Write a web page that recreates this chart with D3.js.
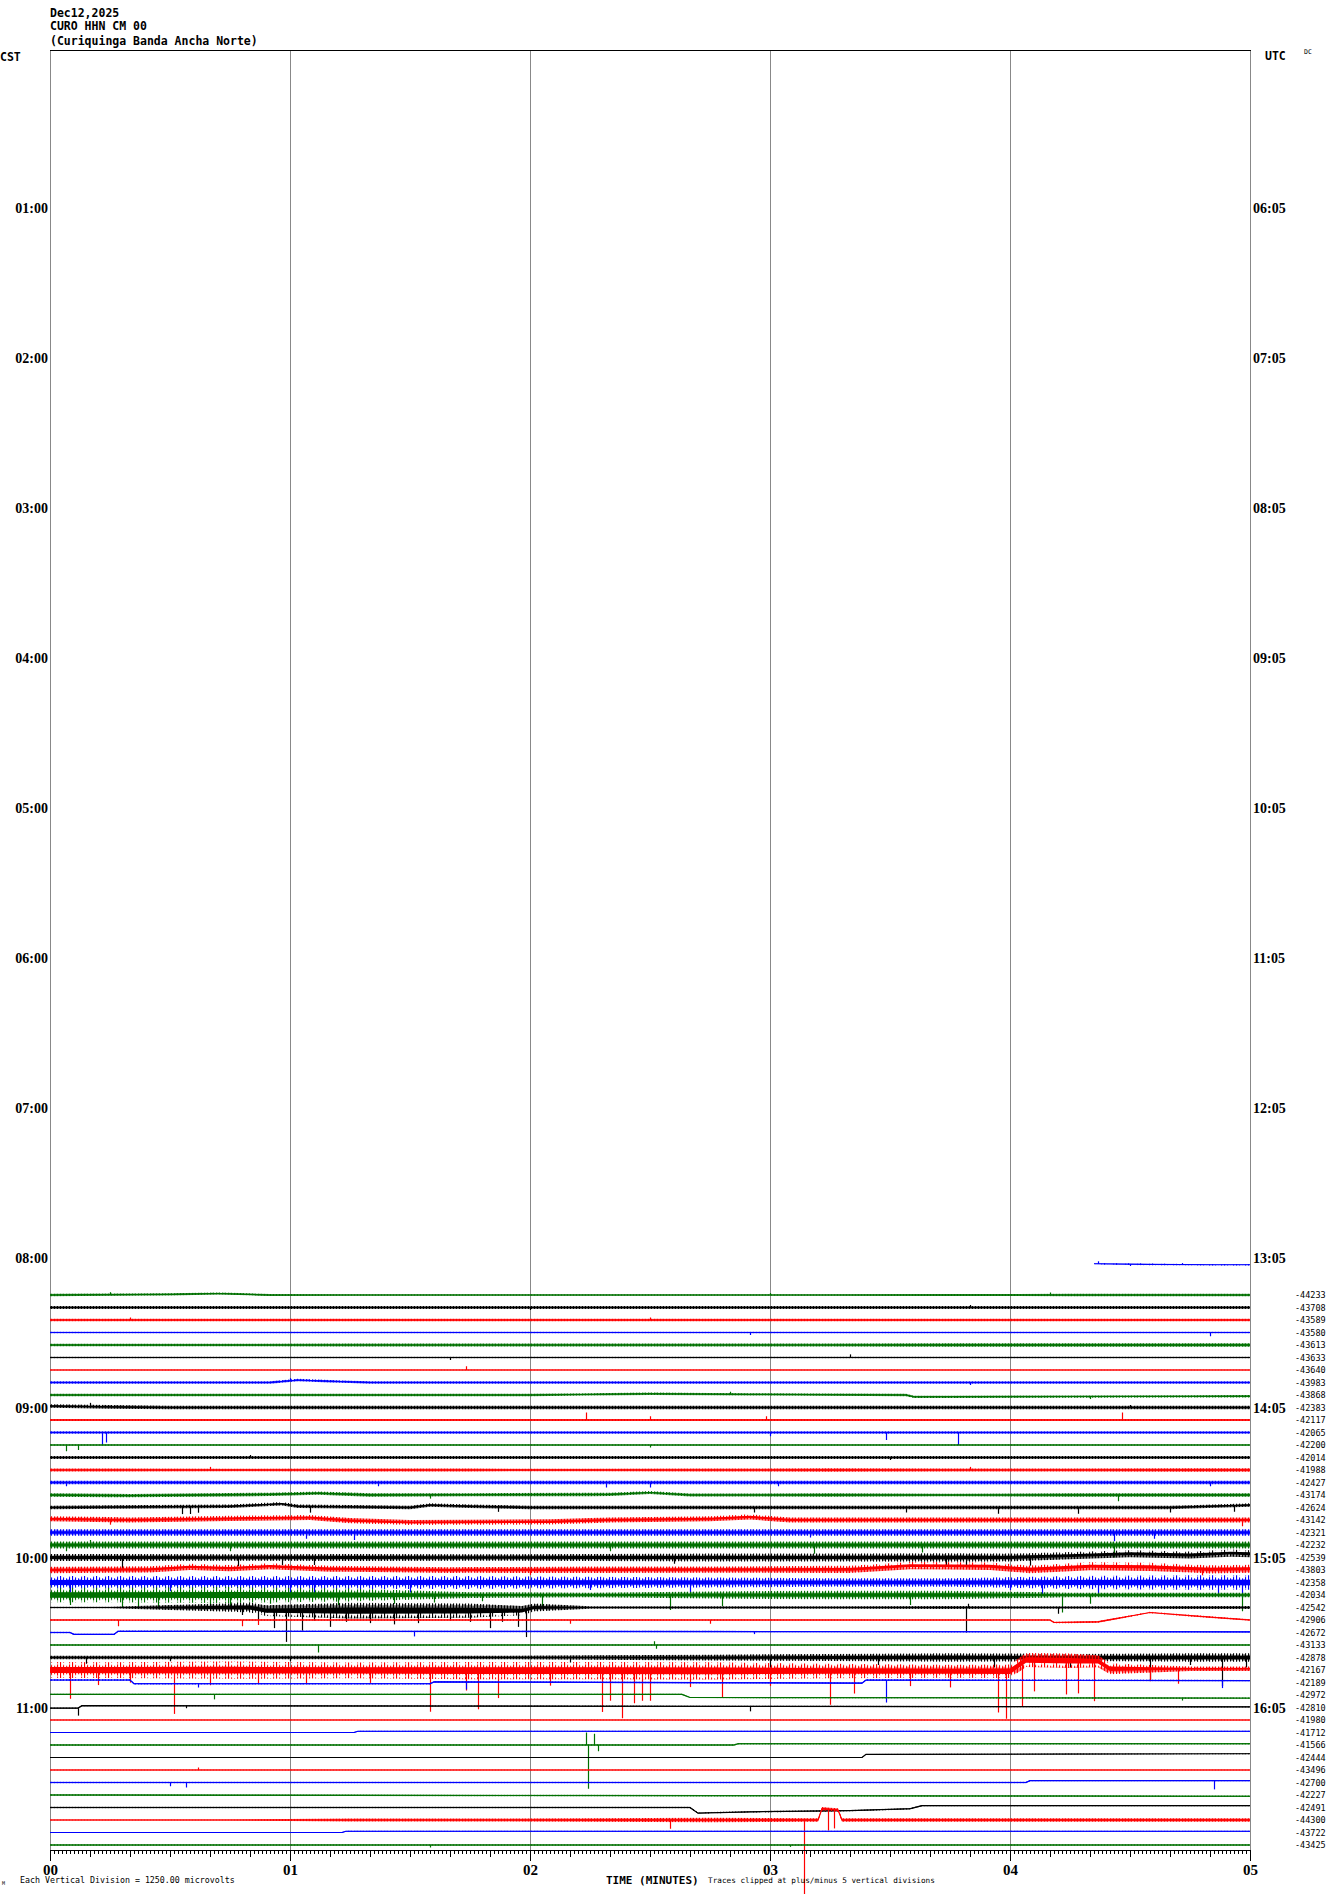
<!DOCTYPE html>
<html>
<head>
<meta charset="utf-8">
<script src="https://cdn.jsdelivr.net/npm/d3@7"></script>
<style>
body { margin: 0; background: #fff; }
svg { display: block; }
.mono { font-family: "DejaVu Sans Mono", monospace; }
.hour { font-family: "Liberation Serif", serif; font-weight: bold; font-size: 14px; }
.minute text { font-family: "Liberation Serif", serif; font-weight: bold; font-size: 15px; }
</style>
</head>
<body>
<svg width="1330" height="1894"></svg>
<script>
// header / label text
var title = ["Dec12,2025", "CURO HHN CM 00", "(Curiquinga Banda Ancha Norte)"];
var cstHours = ["01:00","02:00","03:00","04:00","05:00","06:00","07:00","08:00","09:00","10:00","11:00"];
var utcHours = ["06:05","07:05","08:05","09:05","10:05","11:05","12:05","13:05","14:05","15:05","16:05"];
var minutes = [0, 1, 2, 3, 4, 5];

// traces start at row 98 (08:10 CST); row 98 is the partial blue one (no DC label)
var firstRow = 98;
var dcLevels = [null, -44233, -43708, -43589, -43580, -43613, -43633, -43640, -43983, -43868,
  -42383, -42117, -42065, -42200, -42014, -41988, -42427, -43174, -42624, -43142,
  -42321, -42232, -42539, -43803, -42358, -42034, -42542, -42906, -42672, -43133,
  -42878, -42167, -42189, -42972, -42810, -41980, -41712, -41566, -42444, -43496,
  -42700, -42227, -42491, -44300, -43722, -43425];

// noise half-amplitude (vertical divisions) per 30 s bin
var noiseLevels = [
  [0,0,0,0,0,0,0,0,0.06,0.05],
  [0.08,0.07,0.06,0.06,0.06,0.06,0.06,0.07,0.08,0.08],
  [0.1,0.1,0.1,0.1,0.1,0.1,0.1,0.1,0.1,0.1],
  [0.09,0.09,0.08,0.08,0.08,0.08,0.08,0.08,0.09,0.09],
  [0.06,0.06,0.06,0.06,0.06,0.06,0.06,0.06,0.06,0.06],
  [0.08,0.08,0.1,0.1,0.1,0.1,0.1,0.12,0.12,0.12],
  [0.05,0.05,0.05,0.05,0.05,0.05,0.05,0.05,0.05,0.05],
  [0.04,0.04,0.04,0.04,0.04,0.04,0.04,0.04,0.04,0.04],
  [0.08,0.08,0.08,0.08,0.08,0.08,0.08,0.08,0.08,0.08],
  [0.08,0.08,0.08,0.08,0.08,0.08,0.08,0.08,0.08,0.08],
  [0.13,0.12,0.12,0.12,0.12,0.12,0.12,0.12,0.12,0.12],
  [0.07,0.07,0.07,0.07,0.07,0.07,0.07,0.07,0.07,0.07],
  [0.08,0.08,0.08,0.08,0.08,0.08,0.08,0.08,0.08,0.08],
  [0.06,0.06,0.06,0.06,0.06,0.06,0.06,0.06,0.06,0.06],
  [0.1,0.1,0.1,0.1,0.1,0.1,0.1,0.1,0.1,0.1],
  [0.1,0.08,0.1,0.1,0.08,0.1,0.12,0.1,0.1,0.12],
  [0.12,0.12,0.12,0.12,0.12,0.12,0.12,0.12,0.12,0.12],
  [0.12,0.12,0.12,0.1,0.12,0.1,0.12,0.08,0.12,0.12],
  [0.12,0.12,0.12,0.12,0.12,0.12,0.12,0.12,0.12,0.12],
  [0.18,0.18,0.18,0.18,0.18,0.18,0.18,0.18,0.18,0.18],
  [0.22,0.22,0.22,0.22,0.22,0.22,0.22,0.22,0.22,0.22],
  [0.25,0.25,0.25,0.25,0.25,0.25,0.25,0.25,0.25,0.25],
  [0.25,0.22,0.25,0.22,0.25,0.28,0.28,0.3,0.25,0.25],
  [0.22,0.22,0.2,0.2,0.22,0.22,0.25,0.25,0.28,0.28],
  [0.45,0.45,0.45,0.45,0.4,0.35,0.3,0.3,0.45,0.5],
  [0.5,0.55,0.45,0.2,0.15,0.25,0.3,0.3,0.15,0.15],
  [0.06,0.3,0.55,0.5,0.08,0.08,0.08,0.1,0.08,0.1],
  [0.06,0.06,0.06,0.06,0.06,0.06,0.06,0.06,0.06,0.06],
  [0.05,0.05,0.05,0.05,0.05,0.05,0.05,0.05,0.05,0.05],
  [0.05,0.05,0.05,0.05,0.05,0.05,0.05,0.05,0.05,0.05],
  [0.12,0.12,0.12,0.12,0.15,0.2,0.25,0.3,0.25,0.3],
  [0.55,0.6,0.55,0.6,0.6,0.6,0.5,0.45,0.5,0.15],
  [0.05,0.05,0.05,0.05,0.05,0.05,0.05,0.05,0.05,0.05],
  [0.04,0.04,0.04,0.04,0.04,0.04,0.04,0.04,0.04,0.04],
  [0.04,0.04,0.04,0.04,0.04,0.04,0.04,0.04,0.04,0.04],
  [0.04,0.04,0.04,0.04,0.04,0.04,0.04,0.04,0.04,0.04],
  [0.04,0.04,0.04,0.04,0.04,0.04,0.04,0.04,0.04,0.04],
  [0.05,0.05,0.05,0.05,0.05,0.05,0.05,0.05,0.05,0.05],
  [0.03,0.03,0.03,0.03,0.03,0.03,0.03,0.03,0.03,0.03],
  [0.04,0.04,0.04,0.04,0.04,0.04,0.04,0.04,0.04,0.04],
  [0.05,0.05,0.05,0.05,0.05,0.05,0.05,0.05,0.05,0.05],
  [0.05,0.05,0.05,0.05,0.05,0.05,0.05,0.05,0.05,0.05],
  [0.05,0.05,0.05,0.05,0.05,0.05,0.05,0.05,0.05,0.05],
  [0.04,0.04,0.1,0.1,0.12,0.15,0.12,0.12,0.12,0.12],
  [0.04,0.04,0.04,0.04,0.04,0.04,0.04,0.04,0.04,0.04],
  [0.06,0.06,0.05,0.05,0.05,0.05,0.06,0.06,0.05,0.05]
];

// slow baseline wander: [seconds, divisions]
var flat = [[0,0],[300,0]];
var driftKnots = [
  [[261,1.5],[275,1.45],[290,1.42],[300,1.42]],
  [[0,0],[30,0.05],[42,0.12],[55,0],[300,0]],
  flat, flat, flat, flat, flat, flat,
  [[0,0],[55,0],[62,0.2],[70,0.1],[80,0],[300,0]],
  [[0,0],[120,0],[150,0.1],[175,0.05],[214,0],[216,-0.15],[300,-0.1]],
  [[0,0.12],[15,0.05],[30,0],[300,0]],
  flat, flat, flat, flat, flat, flat,
  [[0,0],[20,-0.05],[55,0.05],[67,0.15],[80,0],[140,0.05],[150,0.2],[160,0],[300,0]],
  [[0,0],[45,0.1],[58,0.3],[62,0.1],[90,0],[95,0.2],[105,0.1],[120,0],[280,0],[300,0.2]],
  [[0,0.1],[20,0],[50,0.15],[65,0.2],[75,-0.05],[90,-0.2],[125,-0.15],[140,0],[165,0.1],[175,0.25],[185,0],[300,0]],
  flat, flat,
  [[0,0],[240,0],[255,0.15],[270,0.3],[285,0.2],[295,0.35],[300,0.3]],
  [[0,0],[25,0.05],[35,0.25],[45,0.15],[55,0.3],[70,0.1],[100,0],[200,0.05],[215,0.35],[235,0.3],[245,0.05],[260,0.3],[275,0.25],[290,0.05],[300,0.1]],
  flat, flat,
  [[0,0],[50,0],[54,-0.25],[118,-0.25],[121,0],[300,0]],
  [[0,0],[250,0],[251,-0.2],[262,-0.15],[275,0.6],[285,0.35],[300,0]],
  [[0,0],[5,0],[6,-0.15],[16,-0.15],[17,0.1],[300,0.05]],
  flat, flat,
  [[0,0],[240,-0.1],[244,0.8],[262,0.7],[265,0.1],[300,0.1]],
  [[0,0.2],[20,0.2],[21,-0.1],[95,-0.1],[96,0.05],[203,-0.05],[204,0.2],[300,0.15]],
  [[0,0.05],[158,0.05],[160,-0.2],[300,-0.25]],
  [[0,-0.05],[7,-0.05],[8,0.15],[300,0.05]],
  flat,
  [[0,0],[76,0],[77,0.1],[300,0.1]],
  [[0,0],[171,0],[172,0.1],[300,0.1]],
  [[0,0],[203,0],[204,0.25],[300,0.3]],
  flat,
  [[0,0],[244,0],[245,0.15],[300,0.15]],
  [[0,0],[300,-0.1]],
  [[0,0],[160,0],[162,-0.45],[175,-0.35],[200,-0.25],[215,-0.1],[218,0.15],[300,0.15]],
  [[0,0],[192,0],[193,0.9],[197,0.8],[198,0],[300,0]],
  [[0,0],[73,0],[74,0.1],[300,0.1]],
  flat
];

// individual spikes: [seconds, divisions] (negative = down)
var spikeList = [
  [[262,0.2],[270,-0.15],[283,0.12]],
  [[15,0.2],[180,0.15],[250,0.2]],
  [[120,-0.2],[230,0.2]],
  [[20,0.2],[150,0.2]],
  [[175,-0.2],[290,-0.3]],
  [],
  [[100,-0.2],[200,0.25]],
  [[104,0.3]],
  [[60,0.2],[230,-0.2]],
  [[170,0.2],[260,-0.2]],
  [[10,0.3],[270,0.2]],
  [[134,0.6],[150,0.3],[179,0.3],[268,0.6]],
  [[13,-1.0],[14,-0.8],[180,-0.3],[209,-0.6],[227,-1.0]],
  [[4,-0.5],[7,-0.4],[150,-0.2]],
  [[50,0.2],[210,-0.2]],
  [[40,0.25],[230,0.25]],
  [[4,-0.3],[82,-0.3],[139,-0.4],[150,-0.4],[182,-0.3],[290,-0.3]],
  [[95,-0.3],[267,-0.5]],
  [[33,-0.6],[35,-0.6],[37,-0.5],[65,-0.5],[112,-0.4],[176,-0.4],[214,-0.4],[237,-0.5],[257,-0.5],[280,-0.4],[296,-0.5]],
  [[15,-0.4],[298,-0.5]],
  [[64,-0.5],[76,-0.6],[190,-0.4],[266,-0.7],[276,-0.5]],
  [[4,-0.5],[10,0.4],[45,-0.5],[140,-0.5],[191,-0.7],[218,-0.6],[266,-1.0]],
  [[18,-0.9],[47,-0.7],[58,-0.6],[66,-0.6],[156,-0.5],[224,-0.6],[229,-0.8],[245,-0.7]],
  [[120,-0.4],[288,-0.5]],
  [[5,-0.8],[30,-0.7],[60,-0.9],[66,-1.0],[90,-0.8],[135,-0.6],[160,-0.8],[240,-0.6],[248,-1.0],[262,-0.9],[292,-1.0],[298,-1.2]],
  [[5,-0.8],[18,-1.0],[22,-1.0],[27,-1.1],[40,-1.0],[45,-0.9],[55,-0.7],[72,-0.8],[86,-0.7],[96,-0.6],[108,-0.5],[123,-1.0],[155,-1.2],[168,-0.9],[215,-0.8],[253,-1.4],[260,-0.7],[298,-1.3]],
  [[48,-0.6],[52,-0.9],[56,-1.4],[59,-2.5],[63,-1.6],[66,-0.8],[70,-1.3],[74,-0.9],[80,-1.0],[86,-1.1],[92,-1.0],[100,-0.8],[105,-0.9],[110,-1.4],[113,-0.9],[117,-1.3],[119,-2.2],[229,-2.0],[229.5,0.3],[252,-0.5]],
  [[17,-0.5],[48,-0.5],[52,-0.4],[130,-0.3],[165,-0.3]],
  [[91,-0.4],[176,-0.2]],
  [[67,-0.6],[151,0.3],[151.5,-0.3]],
  [[9,-0.5],[30,-0.3],[60,-0.3],[130,-0.4],[180,-0.8],[207,-0.6],[236,-0.8],[246,-0.7],[255,-0.8],[275,-1.8],[285,-0.6],[293,-2.3],[299,-0.8]],
  [[5,-2.3],[12,-1.2],[20,-1.0],[31,-3.5],[40,-1.2],[52,-1.1],[64,-1.1],[80,-1.0],[95,-3.3],[104,-1.6],[107,-3.1],[112,-2.2],[125,-1.2],[138,-3.3],[140,-2.4],[143,-3.8],[146,-2.6],[148,-2.4],[150,-2.4],[160,-1.3],[168,-2.1],[180,-1.2],[195,-2.7],[201,-1.8],[215,-1.2],[225,-1.3],[237,-3.3],[239,-3.8],[243,-3.5],[246,-2.5],[254,-2.7],[257,-2.6],[261,-3.2],[275,-1.0],[282,-1.2]],
  [[37,-0.3],[104,-0.6],[209,-1.8],[293,-0.6]],
  [[41,-0.4],[283,-0.2]],
  [[7,-0.6],[34,-0.2],[175,-0.4]],
  [],
  [],
  [[134,1.0],[134.5,-3.5],[136,0.9],[137,-0.5]],
  [],
  [[37,0.2]],
  [[30,-0.3],[34,-0.4],[291,-0.7]],
  [],
  [],
  [[155,-0.7],[188.5,-6],[194.5,-1.7],[196,-1.5]],
  [],
  [[95,-0.2],[185,-0.15]]
];

var colors = ["#000000", "#ff0000", "#0000ff", "#007000"];
var binCenters = d3.range(15, 300, 30);

var svg = d3.select("svg");
var plotLeft = 50, plotRight = 1250, plotTop = 50, plotBottom = 1850;
var divPx = 12.5;   // one vertical division = one row spacing
var clipDiv = 6;

var x = d3.scaleLinear().domain([0, 300]).range([plotLeft, plotRight]);
var rowY = d3.scaleLinear().domain([0, 143]).range([57.5, 1845]);

// textured fills standing in for dense seismic noise: stripes of mixed
// height, each tile centred on a trace row
var stripeH = [1.0, 0.45, 0.8, 0.3, 0.65, 0.5, 0.9, 0.35];
var stripeStep = 1.5;
var defs = svg.append("defs");
colors.forEach(function(c, i) {
    var p = defs.append("pattern")
        .attr("id", "noise" + i)
        .attr("patternUnits", "userSpaceOnUse")
        .attr("x", 0).attr("y", 1.25)
        .attr("width", stripeH.length * stripeStep).attr("height", divPx);
    p.selectAll("rect")
        .data(stripeH)
        .enter().append("rect")
        .attr("x", function(d, k) { return k * stripeStep; })
        .attr("width", 1.1)
        .attr("y", function(d) { return divPx / 2 * (1 - d); })
        .attr("height", function(d) { return divPx * d; })
        .attr("fill", c);
});

// frame and minute grid
svg.append("g").selectAll("line")
    .data(minutes)
    .enter().append("line")
    .attr("x1", function(d) { return x(d * 60) + 0.5; })
    .attr("x2", function(d) { return x(d * 60) + 0.5; })
    .attr("y1", plotTop).attr("y2", plotBottom)
    .attr("stroke", "#888").attr("stroke-width", 1);
svg.append("line")
    .attr("x1", plotLeft).attr("x2", plotRight + 1)
    .attr("y1", plotTop + 0.5).attr("y2", plotTop + 0.5)
    .attr("stroke", "#000");

// traces
var traceG = svg.append("g");
noiseLevels.forEach(function(noise, i) {
    var row = firstRow + i;
    var ci = row % 4;
    var col = colors[ci];
    var knots = driftKnots[i];
    var drift = d3.scaleLinear()
        .domain(knots.map(function(k) { return k[0]; }))
        .range(knots.map(function(k) { return k[1]; }));
    var amp = d3.scaleLinear().domain(binCenters).range(noise).clamp(true);
    var t0 = knots[0][0], t1 = knots[knots.length - 1][0];
    var yv = function(off) {
        return rowY(row) - Math.max(-clipDiv, Math.min(clipDiv, off)) * divPx;
    };

    var ts = knots.map(function(k) { return k[0]; });
    binCenters.forEach(function(c) { if (c > t0 && c < t1) ts.push(c); });
    ts = Array.from(new Set(ts)).sort(function(a, b) { return a - b; });

    var band = function(scale) {
        return d3.area()
            .x(function(t) { return x(t); })
            .y0(function(t) { return yv(drift(t) - amp(t) * scale); })
            .y1(function(t) { return yv(drift(t) + amp(t) * scale); })(ts);
    };
    traceG.append("path")
        .attr("d", band(1.15))
        .attr("fill", "url(#noise" + ci + ")");
    traceG.append("path")
        .attr("d", band(0.45))
        .attr("fill", col);

    var line = d3.line()
        .x(function(d) { return x(d[0]); })
        .y(function(d) { return yv(d[1]); });
    traceG.append("path")
        .attr("d", line(knots))
        .attr("fill", "none")
        .attr("stroke", col)
        .attr("stroke-width", 1.2);

    traceG.append("g").selectAll("line")
        .data(spikeList[i])
        .enter().append("line")
        .attr("x1", function(d) { return Math.round(x(d[0])) + 0.5; })
        .attr("x2", function(d) { return Math.round(x(d[0])) + 0.5; })
        .attr("y1", function(d) { return yv(drift(d[0])); })
        .attr("y2", function(d) { return yv(drift(d[0]) + d[1]); })
        .attr("stroke", col)
        .attr("stroke-width", 1.2);

    if (dcLevels[i] !== null) {
        svg.append("text")
            .attr("class", "mono")
            .attr("x", 1295).attr("y", rowY(row) + 3)
            .attr("font-size", "8.5px")
            .text(dcLevels[i]);
    }
});

// hour labels
svg.append("g").selectAll("text")
    .data(cstHours)
    .enter().append("text")
    .attr("class", "hour")
    .attr("x", 48).attr("text-anchor", "end")
    .attr("y", function(d, i) { return rowY((i + 1) * 12) + 5; })
    .text(function(d) { return d; });
svg.append("g").selectAll("text")
    .data(utcHours)
    .enter().append("text")
    .attr("class", "hour")
    .attr("x", 1253)
    .attr("y", function(d, i) { return rowY((i + 1) * 12) + 5; })
    .text(function(d) { return d; });

// time axis
var axisG = svg.append("g").attr("transform", "translate(0," + plotBottom + ")");
axisG.append("g")
    .call(d3.axisBottom(x).tickValues(d3.range(0, 301, 1)).tickSize(4).tickFormat(""));
axisG.append("g")
    .call(d3.axisBottom(x).tickValues(d3.range(0, 301, 10)).tickSize(7).tickFormat(""));
axisG.append("g")
    .attr("class", "minute")
    .call(d3.axisBottom(x).tickValues(minutes.map(function(m) { return m * 60; }))
        .tickSize(11).tickPadding(3)
        .tickFormat(function(d) { return d3.format("02d")(d / 60); }));
axisG.selectAll("text").attr("fill", "#000");
axisG.selectAll(".tick line").attr("stroke", "#000");
axisG.selectAll(".domain").attr("stroke", "#000");

// header
svg.append("g").selectAll("text")
    .data(title)
    .enter().append("text")
    .attr("class", "mono")
    .attr("x", 50)
    .attr("y", function(d, i) { return [17, 30, 45][i]; })
    .attr("font-size", "11.5px").attr("font-weight", "bold")
    .text(function(d) { return d; });
svg.append("text").attr("class", "mono").attr("x", 0).attr("y", 61)
    .attr("font-size", "11.5px").attr("font-weight", "bold").text("CST");
svg.append("text").attr("class", "mono").attr("x", 1265).attr("y", 60)
    .attr("font-size", "11.5px").attr("font-weight", "bold").text("UTC");
svg.append("text").attr("class", "mono").attr("x", 1304).attr("y", 54)
    .attr("font-size", "6.5px").text("DC");

// footer
svg.append("text").attr("class", "mono").attr("x", 2).attr("y", 1885)
    .attr("font-size", "5px").text("M");
svg.append("text").attr("class", "mono").attr("x", 20).attr("y", 1883)
    .attr("font-size", "8.3px").text("Each Vertical Division = 1250.00 microvolts");
svg.append("text").attr("class", "mono").attr("x", 606).attr("y", 1884)
    .attr("font-size", "11px").attr("font-weight", "bold").text("TIME (MINUTES)");
svg.append("text").attr("class", "mono").attr("x", 708).attr("y", 1883)
    .attr("font-size", "7.7px").text("Traces clipped at plus/minus 5 vertical divisions");
</script>
</body>
</html>
